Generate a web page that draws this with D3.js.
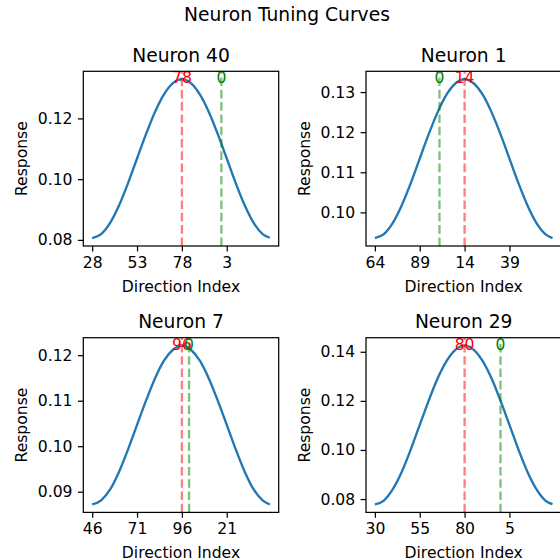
<!DOCTYPE html>
<html lang="en">
<head>
    <meta charset="UTF-8">
    <title>Neuron Tuning Curves</title>
    <script src="https://d3js.org/d3.v7.min.js"></script>
    <style type="text/css">
        body {
            margin: 0;
            background-color: white;
        }

        text {
            font-family: "DejaVu Sans", sans-serif;
            fill: black;
        }

        .axis path {
            display: none;
        }

        .axis line {
            stroke: black;
            stroke-width: 1.24px;
        }

        .axis text {
            font-size: 15.6px;
        }

        .spine {
            fill: none;
            stroke: black;
            stroke-width: 1.24px;
        }

        .curve {
            fill: none;
            stroke: #1f77b4;
            stroke-width: 2.33px;
        }

        .pref-line {
            stroke: red;
            stroke-opacity: 0.5;
            stroke-width: 2.33px;
            stroke-dasharray: 8.6 3.7;
        }

        .zero-line {
            stroke: green;
            stroke-opacity: 0.5;
            stroke-width: 2.33px;
            stroke-dasharray: 8.6 3.7;
        }

        .title {
            font-size: 18.7px;
            text-anchor: middle;
        }

        .label {
            font-size: 15.6px;
            text-anchor: middle;
        }
    </style>
</head>
<body>
    <script type="text/javascript">
        //DATA
        const neuronIds = [40, 1, 7, 29];
        const prefLabels = ["78", "14", "96", "80"];
        const zeroIndex = [72, 36, 54, 70];   //position of direction 0 along the shifted axis

        //direction index (after shifting so the preferred direction sits at 50)
        const sampleIndex = [0, 5, 10, 15, 20, 25, 30, 35, 40, 45, 50, 55, 60, 65, 70, 75, 80, 85, 90, 95, 99];

        const response40 = [0.0806, 0.0819, 0.0856, 0.0914, 0.0987, 0.1068, 0.1148, 0.1221, 0.1279, 0.1316, 0.1329,
                            0.1316, 0.1279, 0.1221, 0.1148, 0.1068, 0.0987, 0.0914, 0.0856, 0.0819, 0.0807];
        const response1  = [0.0936, 0.0946, 0.0974, 0.1018, 0.1073, 0.1134, 0.1195, 0.1250, 0.1294, 0.1322, 0.1332,
                            0.1322, 0.1294, 0.1250, 0.1195, 0.1134, 0.1073, 0.1018, 0.0974, 0.0946, 0.0936];
        const response7  = [0.0872, 0.0881, 0.0905, 0.0944, 0.0993, 0.1047, 0.1100, 0.1149, 0.1188, 0.1212, 0.1221,
                            0.1212, 0.1188, 0.1149, 0.1100, 0.1047, 0.0993, 0.0944, 0.0905, 0.0881, 0.0872];
        const response29 = [0.0778, 0.0794, 0.0840, 0.0911, 0.1002, 0.1102, 0.1201, 0.1292, 0.1363, 0.1409, 0.1425,
                            0.1409, 0.1363, 0.1292, 0.1201, 0.1102, 0.1002, 0.0911, 0.0840, 0.0794, 0.0779];
        const responses = [response40, response1, response7, response29];

        //TICKS
        const xTickIndex = [0, 25, 50, 75];
        const xTickLabels40 = ["28", "53", "78", "3"];
        const xTickLabels1  = ["64", "89", "14", "39"];
        const xTickLabels7  = ["46", "71", "96", "21"];
        const xTickLabels29 = ["30", "55", "80", "5"];
        const xTickLabels = [xTickLabels40, xTickLabels1, xTickLabels7, xTickLabels29];

        const yTicks40 = [0.08, 0.10, 0.12];
        const yTicks1  = [0.10, 0.11, 0.12, 0.13];
        const yTicks7  = [0.09, 0.10, 0.11, 0.12];
        const yTicks29 = [0.08, 0.10, 0.12, 0.14];
        const yTicks = [yTicks40, yTicks1, yTicks7, yTicks29];

        //LAYOUT
        const width = 560;
        const height = 560;
        const axLefts = [83.3, 366];
        const axTops = [71.3, 337.7];
        const axW = 195.4;
        const axH = 174.7;
        const tickLen = 5.4;

        const svg = d3.select("body")
            .append("svg")
            .attr("width", width)
            .attr("height", height);

        //SUPTITLE
        svg.append("text")
            .attr("class", "title")
            .attr("x", 287)
            .attr("y", 21)
            .text("Neuron Tuning Curves");

        neuronIds.forEach((id, k) => {
            const left = axLefts[k % 2];
            const top = axTops[Math.floor(k / 2)];
            const data = sampleIndex.map((x, i) => ({x: x, y: responses[k][i]}));

            //SCALES - matplotlib style 5% padding
            const xExt = d3.extent(data, d => d.x);
            const xPad = (xExt[1] - xExt[0]) * 0.05;
            const xScale = d3.scaleLinear()
                .domain([xExt[0] - xPad, xExt[1] + xPad])
                .range([left, left + axW]);

            const yExt = d3.extent(data, d => d.y);
            const yPad = (yExt[1] - yExt[0]) * 0.05;
            const yScale = d3.scaleLinear()
                .domain([yExt[0] - yPad, yExt[1] + yPad])
                .range([top + axH, top]);

            //CURVE
            const line = d3.line()
                .curve(d3.curveMonotoneX)
                .x(d => xScale(d.x))
                .y(d => yScale(d.y));

            svg.append("path")
                .attr("class", "curve")
                .attr("d", line(data));

            //VERTICAL MARKERS (drawn bottom to top like axvline)
            const peak = d3.max(data, d => d.y);
            svg.append("line")
                .attr("class", "pref-line")
                .attr("x1", xScale(50)).attr("x2", xScale(50))
                .attr("y1", top + axH).attr("y2", top);

            svg.append("line")
                .attr("class", "zero-line")
                .attr("x1", xScale(zeroIndex[k])).attr("x2", xScale(zeroIndex[k]))
                .attr("y1", top + axH).attr("y2", top);

            svg.append("text")
                .attr("class", "label")
                .attr("x", xScale(50))
                .attr("y", yScale(peak) + 4)
                .style("fill", "red")
                .text(prefLabels[k]);

            svg.append("text")
                .attr("class", "label")
                .attr("x", xScale(zeroIndex[k]))
                .attr("y", yScale(peak) + 4)
                .style("fill", "green")
                .text("0");

            //AXES
            const xAxis = d3.axisBottom(xScale)
                .tickValues(xTickIndex)
                .tickFormat((d, i) => xTickLabels[k][i])
                .tickSize(tickLen)
                .tickPadding(5.4);

            svg.append("g")
                .attr("class", "axis")
                .attr("transform", "translate(0," + (top + axH) + ")")
                .call(xAxis);

            const yAxis = d3.axisLeft(yScale)
                .tickValues(yTicks[k])
                .tickFormat(d3.format(".2f"))
                .tickSize(tickLen)
                .tickPadding(5.4);

            svg.append("g")
                .attr("class", "axis")
                .attr("transform", "translate(" + left + ",0)")
                .call(yAxis);

            //SPINES
            svg.append("rect")
                .attr("class", "spine")
                .attr("x", left)
                .attr("y", top)
                .attr("width", axW)
                .attr("height", axH);

            //TITLE + AXIS LABELS
            svg.append("text")
                .attr("class", "title")
                .attr("x", left + axW / 2)
                .attr("y", top - 9.6)
                .text("Neuron " + id);

            svg.append("text")
                .attr("class", "label")
                .attr("x", left + axW / 2)
                .attr("y", top + axH + 46)
                .text("Direction Index");

            svg.append("text")
                .attr("class", "label")
                .attr("transform", "rotate(-90)")
                .attr("x", -(top + axH / 2))
                .attr("y", left - 56)
                .text("Response");
        });
    </script>
</body>
</html>
